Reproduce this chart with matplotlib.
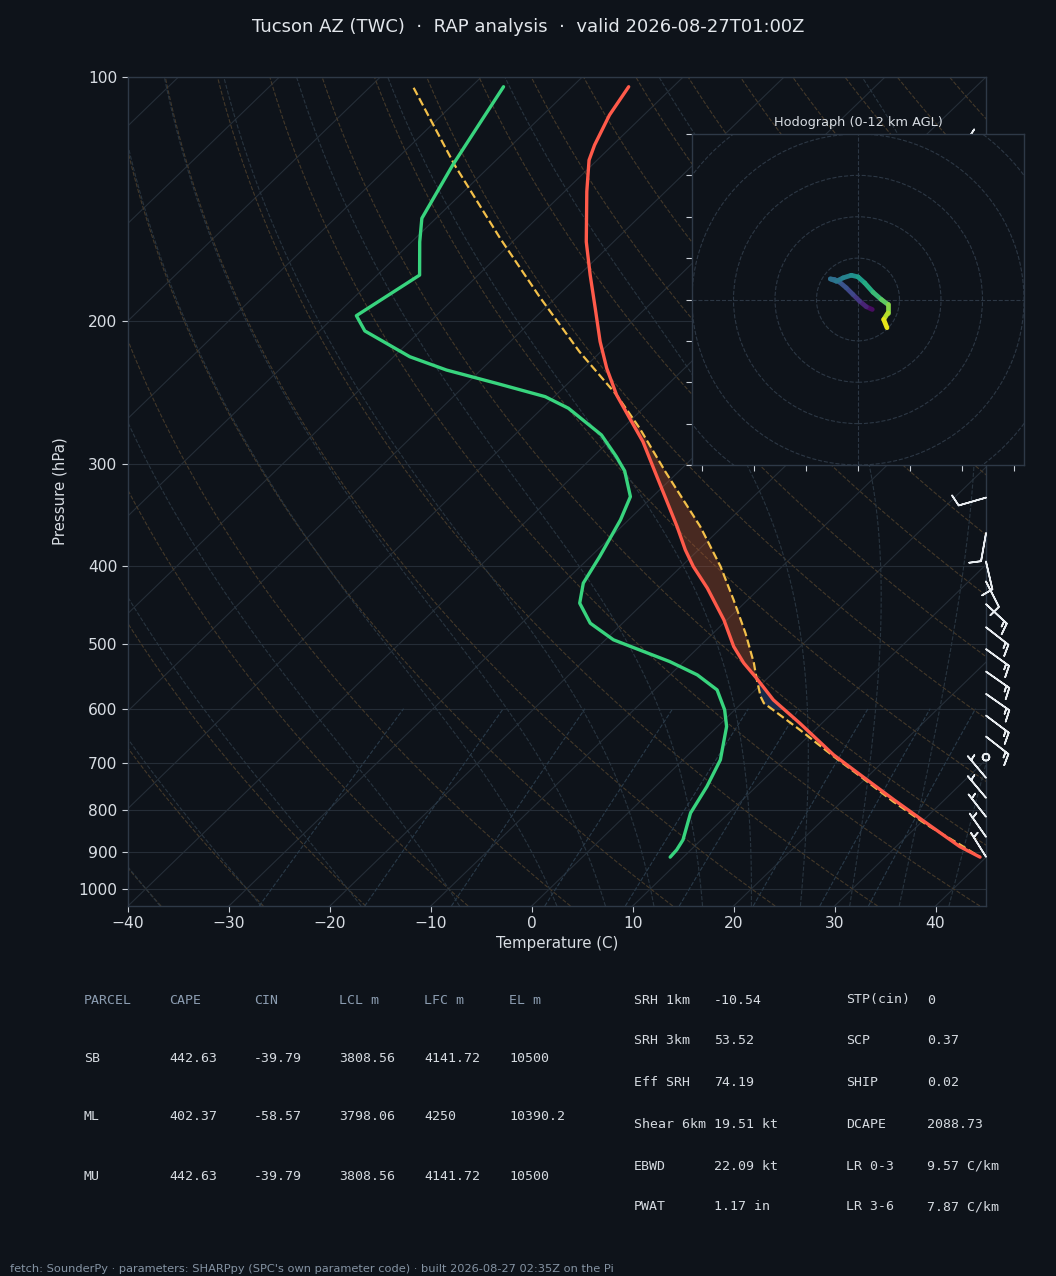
import numpy as np
import matplotlib
matplotlib.use("Agg")
import matplotlib.pyplot as plt
from matplotlib.transforms import Affine2D, blended_transform_factory
from matplotlib.collections import LineCollection
from matplotlib.patches import Circle
from matplotlib.ticker import NullLocator, FixedLocator, FixedFormatter

plt.rcParams["font.family"] = ["DejaVu Sans"]

# ---------------- data ----------------
title = "Tucson AZ (TWC)  \u00b7  RAP analysis  \u00b7  valid 2026-08-27T01:00Z"

temp_p = [102.8, 111.4, 121.3, 126.6, 138.4, 159.6, 175.4, 192.7, 211.8, 228.5,
          246.4, 263.3, 281.3, 306.5, 331.9, 358.0, 382.4, 400.9, 426.2, 466.4,
          503.0, 527.2, 550.2, 585.2, 625.1, 683.9, 723.8, 777.0, 829.9, 887.1, 914.1]
temp_c = [-74.4, -73.4, -71.8, -70.8, -67.8, -62.7, -58.9, -55.0, -51.1, -47.7,
          -44.0, -40.3, -36.6, -32.3, -28.3, -24.5, -21.3, -18.8, -15.2, -10.3,
          -6.6, -3.9, -1.1, 2.8, 7.8, 14.4, 19.1, 25.0, 30.6, 36.3, 39.4]

dew_p = [102.8, 112.4, 128.4, 149.3, 159.6, 175.4, 196.8, 205.5, 221.1, 229.6,
         238.4, 247.6, 255.9, 276.0, 293.5, 305.7, 328.8, 351.2, 389.7, 420.2,
         444.8, 470.8, 493.5, 510.2, 524.9, 545.1, 568.8, 602.0, 631.1, 693.7,
         748.2, 806.7, 870.4, 895.4, 914.1]
dew_c = [-86.8, -85.6, -83.8, -81.4, -79.2, -75.8, -77.9, -75.5, -68.4, -63.4,
         -57.1, -50.9, -47.4, -41.4, -37.7, -35.4, -32.2, -30.8, -29.1, -28.0,
         -26.3, -23.2, -19.2, -15.0, -11.4, -7.3, -3.8, -1.0, 0.9, 3.7,
         5.1, 6.2, 8.2, 8.6, 8.7]

parcel_p = [103.1, 128.4, 158.0, 186.5, 218.0, 246.4, 270.8, 306.3, 358.0, 400.9,
            440.6, 484.3, 527.2, 550.2, 579.7, 590.7, 602.0, 637.1, 687.2, 727.3,
            780.8, 833.9, 882.8, 914.1]
parcel_c = [-95.6, -83.6, -71.6, -61.7, -52.1, -44.0, -38.3, -31.3, -22.2, -16.1,
            -11.4, -6.8, -2.9, -1.1, 1.2, 2.2, 3.8, 8.5, 14.6, 19.3,
            25.1, 30.8, 36.2, 39.4]

lfc_hpa = 550.0
lcl_hpa = 600.0

barb_p = [127.0, 329.7, 364.7, 395.3, 418.3, 446.0, 476.2, 506.7, 540.0, 575.3,
          611.8, 649.3, 688.4, 730.0, 772.6, 815.2, 863.0, 913.4]
barb_dir = [320, 254, 190, 167, 153, 133, 128, 126, 125, 125,
            127, 128, 0, 320, 320, 322, 325, 328]
barb_kt = [15, 10, 10, 10, 10, 15, 15, 15, 15, 15,
           15, 15, 0, 5, 5, 5, 5, 5]

hodo_u = [2.76, 1.61, 0.32, -0.96, -2.25, -3.53, -4.50, -5.33, -4.18, -2.89,
          -1.29, 0.0, 1.29, 2.89, 4.50, 5.78, 5.78, 4.95, 5.59]
hodo_v = [-1.93, -1.41, -0.32, 0.96, 2.25, 3.34, 3.86, 3.98, 3.53, 4.18,
          4.69, 4.37, 3.21, 1.41, 0.0, -0.96, -2.57, -3.86, -5.46]
hodo_h = [0.0, 0.8, 1.6, 2.3, 2.8, 3.3, 3.8, 4.2, 4.6, 5.0,
          5.6, 6.3, 7.0, 7.8, 8.6, 9.4, 10.2, 11.1, 12.0]

p_ticks = [100, 200, 300, 400, 500, 600, 700, 800, 900, 1000]
t_ticks = [-40, -30, -20, -10, 0, 10, 20, 30, 40]

table_head = ["PARCEL", "CAPE", "CIN", "LCL m", "LFC m", "EL m"]
table_rows = [["SB", "442.63", "-39.79", "3808.56", "4141.72", "10500"],
              ["ML", "402.37", "-58.57", "3798.06", "4250", "10390.2"],
              ["MU", "442.63", "-39.79", "3808.56", "4141.72", "10500"]]
idx_left_lab = ["SRH 1km", "SRH 3km", "Eff SRH", "Shear 6km", "EBWD", "PWAT"]
idx_left_val = ["-10.54", "53.52", "74.19", "19.51 kt", "22.09 kt", "1.17 in"]
idx_right_lab = ["STP(cin)", "SCP", "SHIP", "DCAPE", "LR 0-3", "LR 3-6"]
idx_right_val = ["0", "0.37", "0.02", "2088.73", "9.57 C/km", "7.87 C/km"]
footer = ("fetch: SounderPy \u00b7 parameters: SHARPpy (SPC's own parameter code) "
          "\u00b7 built 2026-08-27 02:35Z on the Pi")

# ---------------- style ----------------
BG = "#0e131a"
SPINE = "#2e3947"
TXT = "#d8dde3"
GRID = "#252d37"

W, H = 1056, 1276
fig = plt.figure(figsize=(W / 100, H / 100), dpi=100, facecolor=BG)
ax = fig.add_axes([128 / W, 1 - 906 / H, 858 / W, 829 / H])
ax.set_facecolor(BG)
ax.set_yscale("log")
ax.set_xlim(-40, 45)
ax.set_ylim(1050, 100)
ax.set_autoscale_on(False)
skew = ax.transScale + ax.transLimits + Affine2D().skew_deg(45, 0) + ax.transAxes

for s in ax.spines.values():
    s.set_color(SPINE)
    s.set_linewidth(1.0)

ax.yaxis.set_major_locator(FixedLocator(p_ticks))
ax.yaxis.set_major_formatter(FixedFormatter([str(p) for p in p_ticks]))
ax.yaxis.set_minor_locator(NullLocator())
ax.set_xticks(t_ticks)
ax.set_xticklabels([("\u2212%d" % -t) if t < 0 else str(t) for t in t_ticks])
ax.tick_params(axis="both", colors="#c9cfd7", labelcolor=TXT, labelsize=11.2,
               length=4, width=0.8, direction="out")
ax.yaxis.grid(True, color=GRID, lw=0.8, zorder=0)
ax.set_axisbelow(True)
ax.set_xlabel("Temperature (C)", fontsize=10.8, color=TXT)
ax.set_ylabel("Pressure (hPa)", fontsize=10.8, color=TXT)
ax.xaxis.set_label_coords(0.5, -0.036)
ax.yaxis.set_label_coords(-0.070, 0.5)

# ---- background thermodynamic lines ----
p_bg = np.geomspace(1050, 100, 120)
for t in range(-150, 50, 10):
    ax.plot([t, t], [1050, 100], transform=skew, color="#252e38", lw=0.8, zorder=1)

# dry adiabats
for t0 in range(-40, 250, 10):
    tt = (t0 + 273.15) * (p_bg / 1000.0) ** 0.2857 - 273.15
    ax.plot(tt, p_bg, transform=skew, color="#433829", lw=0.8, ls="--", zorder=1)

# moist adiabats
Rd, Cp, Lv, eps = 287.04, 1005.7, 2.501e6, 0.622


def dT_dlnp(T, p):
    es = 611.2 * np.exp(17.67 * (T - 273.15) / (T - 29.65))
    rs = eps * es / (p * 100.0 - es)
    return (Rd * T + Lv * rs) / (Cp + Lv * Lv * rs * eps / (Rd * T * T))


def integrate(T0, path):
    T = np.array(T0, float)
    res = [T.copy()]
    for p0, p1 in zip(path[:-1], path[1:]):
        h = np.log(p1) - np.log(p0)
        pm = np.exp(np.log(p0) + h / 2)
        k1 = dT_dlnp(T, p0)
        k2 = dT_dlnp(T + h / 2 * k1, pm)
        k3 = dT_dlnp(T + h / 2 * k2, pm)
        k4 = dT_dlnp(T + h * k3, p1)
        T = T + h / 6 * (k1 + 2 * k2 + 2 * k3 + k4)
        res.append(T.copy())
    return np.array(res)


moist_t0 = np.concatenate((np.arange(-40, 0, 10), np.arange(0, 46, 5))) + 273.15
p_up = np.geomspace(1000, 100, 160)
p_dn = np.geomspace(1000, 1050, 6)
up = integrate(moist_t0, p_up)
dn = integrate(moist_t0, p_dn)
p_m = np.concatenate((p_dn[::-1], p_up[1:]))
T_m = np.concatenate((dn[::-1], up[1:]), axis=0) - 273.15
for i in range(T_m.shape[1]):
    ax.plot(T_m[:, i], p_m, transform=skew, color="#28343f", lw=0.8, ls="--", zorder=1)

# mixing ratio lines
p_mix = np.geomspace(1050, 600, 30)
for w in [0.0004, 0.001, 0.002, 0.004, 0.007, 0.01, 0.016, 0.024, 0.032]:
    e = w * p_mix / (eps + w)
    lg = np.log(e / 6.112)
    td = 243.5 * lg / (17.67 - lg)
    ax.plot(td, p_mix, transform=skew, color="#293a49", lw=0.8, ls="--", zorder=1)

# ---- CAPE / CIN shading ----
pg = np.geomspace(min(parcel_p[-1], temp_p[-1]), max(parcel_p[0], temp_p[0]), 400)
lp = np.log(pg)
Ti = np.interp(lp, np.log(temp_p), temp_c)
Tpi = np.interp(lp, np.log(parcel_p), parcel_c)
ax.fill_betweenx(pg, Ti, Tpi, where=(Tpi > Ti) & (pg <= lfc_hpa + 5), interpolate=True,
                 transform=skew, facecolor="#b5532f", alpha=0.35, lw=0, zorder=2)
ax.fill_betweenx(pg, Ti, Tpi, where=(Tpi < Ti) & (pg >= lfc_hpa) & (pg <= lcl_hpa),
                 interpolate=True, transform=skew, facecolor="#3b6fd8", alpha=0.25,
                 lw=0, zorder=2)

# ---- profiles ----
ax.plot(parcel_c, parcel_p, transform=skew, color="#f3c04a", lw=1.6, ls="--", zorder=4)
ax.plot(dew_c, dew_p, transform=skew, color="#38d47e", lw=2.4, zorder=5,
        solid_capstyle="round", solid_joinstyle="round")
ax.plot(temp_c, temp_p, transform=skew, color="#ff5a4a", lw=2.4, zorder=5,
        solid_capstyle="round", solid_joinstyle="round")

# ---- wind barbs ----
d = np.deg2rad(np.array(barb_dir, float))
spd = np.array(barb_kt, float)
bu = -spd * np.sin(d)
bv = -spd * np.cos(d)
bt = blended_transform_factory(ax.transAxes, ax.transData)
ax.barbs(np.ones(len(barb_p)), barb_p, bu, bv, transform=bt, length=6.4,
         color="#e8ecf0", linewidth=1.2, clip_on=False, zorder=6,
         sizes=dict(emptybarb=0.12))

# ---- hodograph ----
hx = fig.add_axes([692 / W, 1 - 465 / H, 332 / W, 331 / H])
hx.set_facecolor(BG)
for s in hx.spines.values():
    s.set_color(SPINE)
    s.set_linewidth(1.0)
hx.set_xlim(-32, 32)
hx.set_ylim(-32, 32)
hx.set_xticks(np.arange(-30, 31, 10))
hx.set_yticks(np.arange(-32, 33, 8))
hx.tick_params(colors="#c9cfd7", length=4, width=0.8, labelbottom=False, labelleft=False)
for r in [8, 16, 24, 32, 40]:
    hx.add_patch(Circle((0, 0), r, fill=False, ec="#2c3744", lw=0.8, ls="--", zorder=1))
hx.axhline(0, color="#2c3744", lw=0.8, ls="--", zorder=1)
hx.axvline(0, color="#2c3744", lw=0.8, ls="--", zorder=1)
pts = np.column_stack([hodo_u, hodo_v])
segs = np.stack([pts[:-1], pts[1:]], axis=1)
hh = np.array(hodo_h)
lc = LineCollection(segs, cmap="viridis", norm=plt.Normalize(0, 12), lw=3.4,
                    capstyle="round", joinstyle="round", zorder=3)
lc.set_array(0.5 * (hh[:-1] + hh[1:]))
hx.add_collection(lc)
hx.set_title("Hodograph (0-12 km AGL)", fontsize=9.3, color=TXT, pad=6)

# ---- title ----
fig.text(0.5, 1 - 27 / H, title, ha="center", va="center", fontsize=13, color="#e2e6eb")

# ---- tables ----
MONO = "DejaVu Sans Mono"
HEAD = "#8c9db1"
VAL = "#d5dae0"
col_x = [84, 169, 254, 339, 424, 509]
row_y = [1000, 1058, 1117, 1176]
for j, h in enumerate(table_head):
    fig.text(col_x[j] / W, 1 - row_y[0] / H, h, family=MONO, fontsize=9.5, color=HEAD,
             va="center", ha="left")
for i, row in enumerate(table_rows):
    for j, v in enumerate(row):
        fig.text(col_x[j] / W, 1 - row_y[i + 1] / H, v, family=MONO, fontsize=9.5,
                 color=VAL, va="center", ha="left")

idx_y = [1000, 1041, 1083, 1124, 1166, 1207]
for i in range(6):
    y = 1 - idx_y[i] / H
    fig.text(634 / W, y, idx_left_lab[i], family=MONO, fontsize=9.5, color=VAL, va="center")
    fig.text(714 / W, y, idx_left_val[i], family=MONO, fontsize=9.5, color=VAL, va="center")
    fig.text(846 / W, y, idx_right_lab[i], family=MONO, fontsize=9.5, color=VAL, va="center")
    fig.text(927 / W, y, idx_right_val[i], family=MONO, fontsize=9.5, color=VAL, va="center")

fig.text(10 / W, 1 - 1269 / H, footer, fontsize=8.2, color="#8593a3", va="center", ha="left")

fig.savefig("out.png", dpi=100, facecolor=BG)
